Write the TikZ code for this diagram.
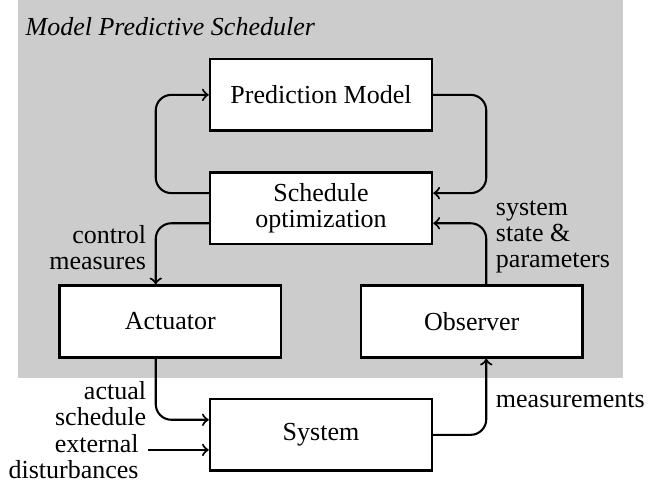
\documentclass[tikz,border=0pt]{standalone}
\usepackage{fontspec}
\setmainfont{Liberation Serif}
\usetikzlibrary{arrows,calc,positioning,backgrounds}

\tikzset{
  block/.style={draw,line width=1pt,fill=white,minimum width=3cm,
                minimum height=0.97cm,align=center},
  lbl/.style={align=left},
  flow/.style={->,line width=0.8pt,rounded corners=6pt},
}

\begin{document}
\begin{tikzpicture}[font=\fontsize{10}{10}\selectfont,on grid,node distance=43.6pt]

  \useasboundingbox (-123.5pt,36.5pt) rectangle (125.8pt,-149.6pt) ;

  \node [block] (pred) at (0,0) {Prediction Model} ;
  \node [block,below=of pred] (sched) {Schedule\\optimization} ;
  \node [block,below left=43.6pt and 58pt of sched] (act) {Actuator} ;
  \node [block,below right=43.6pt and 58pt of sched] (obs) {Observer} ;
  \node [block,below right=43.6pt and 58pt of act] (sys) {System} ;

  \coordinate (ll) at ([xshift=-20.4pt]pred.west) ;
  \coordinate (rl) at ([xshift=20.4pt]pred.east) ;
  \coordinate (din) at ([yshift=-5.8pt]sys.west) ;

  % gray frame of the scheduler
  \coordinate (bgnw) at (-116.5pt,36.5pt) ;
  \coordinate (bgse) at (116.2pt,-108.8pt) ;
  \begin{scope}[on background layer]
    \fill[black!20] (bgnw) rectangle (bgse) ;
  \end{scope}
  \node[anchor=base west,inner sep=0pt,font=\fontsize{10}{10}\selectfont\itshape]
    (title) at ($(bgnw)+(2.7pt,-13.8pt)$) {Model Predictive Scheduler} ;

  \draw [flow] ([yshift=5.8pt]sched.west) -| (ll) -- (pred.west) ;
  \draw [flow] (pred.east) -- (rl) |- ([yshift=5.8pt]sched.east) ;

  \draw [flow] (obs.north -| rl) |- node [lbl,right,pos=0.39] {system\\state \&\\parameters}
    ([yshift=-5.8pt]sched.east) ;
  \draw [flow] ([yshift=-5.8pt]sched.west) -| node [lbl,left,align=right,pos=0.7] {control\\measures}
    (act.north -| ll) ;

  \draw [flow] (act.south -| ll) |- node [lbl,left,align=right,pos=0.37] {actual\\schedule}
    ([yshift=5.8pt]sys.west) ;
  \draw [flow] (sys.east) -| node [lbl,right,pos=0.73] {measurements} (obs.south -| rl) ;

  \node [lbl,align=right,anchor=east] (dist) at ([xshift=-23.5pt,yshift=-8.5pt]sys.west) {external\\disturbances} ;
  \draw [flow] (din -| dist.east) -- (din) ;

\end{tikzpicture}
\end{document}
